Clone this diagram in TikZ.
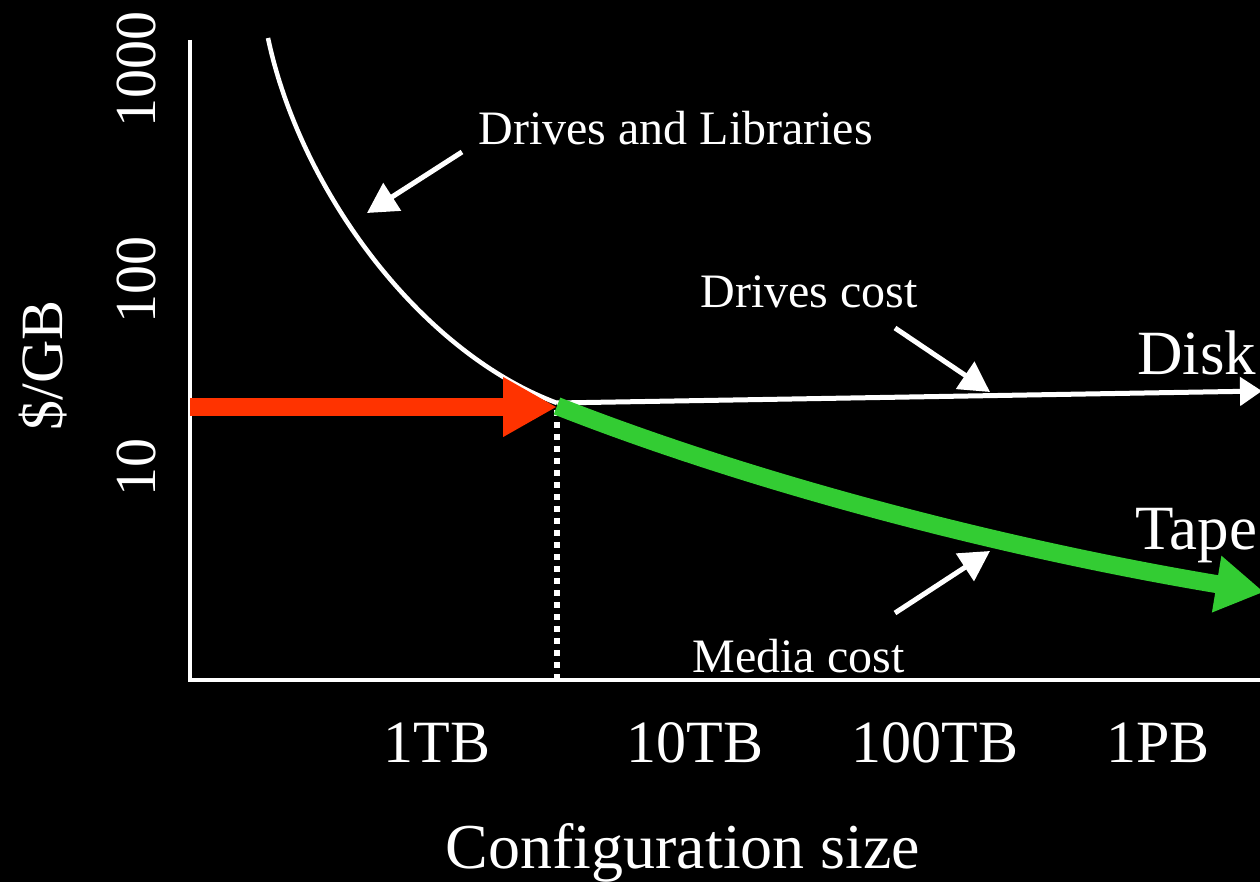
\documentclass[tikz,border=0pt]{standalone}
\usepackage{fontspec}
\setmainfont{Liberation Serif}
\usetikzlibrary{arrows.meta}
\definecolor{redarrow}{HTML}{FF3300}
\definecolor{tapegreen}{HTML}{33CC33}

\begin{document}
\begin{tikzpicture}[x=0.5pt, y=-0.5pt,
    axis/.style={draw=white, line width=2pt},
    lbl/.style={text=white, inner sep=0pt, font=\fontsize{30}{36}\selectfont},
    note/.style={text=white, inner sep=0pt, font=\fontsize{24}{29}\selectfont},
    pointer/.style={white, line width=2.5pt, -{Triangle[length=15pt, width=16pt]}}
]
    % Background
    \useasboundingbox (0,0) rectangle (1260,882);
    \fill[black] (0,0) rectangle (1260,882);
    \clip (0,0) rectangle (1260,882);

    % Axes
    \coordinate (ytop) at (190,40);
    \coordinate (origin) at (190,680);
    \coordinate (xend) at (1262,680);
    \draw[axis] (ytop) -- (origin) -- (xend);

    % Y labels
    \node[lbl, rotate=90, anchor=base, font=\fontsize{29}{35}\selectfont] (y1000) at (155,70) {1000};
    \node[lbl, rotate=90, anchor=base, font=\fontsize{29}{35}\selectfont] (y100) at (155,280) {100};
    \node[lbl, rotate=90, anchor=base, font=\fontsize{29}{35}\selectfont] (y10) at (155,467) {10};
    \node[lbl, rotate=90, anchor=base] (ytitle) at (62,365) {\$/GB};

    % X labels
    \node[lbl, anchor=base] (x1tb) at (437,762) {1TB};
    \node[lbl, anchor=base] (x10tb) at (695,762) {10TB};
    \node[lbl, anchor=base] (x100tb) at (935,762) {100TB};
    \node[lbl, anchor=base] (x1pb) at (1158,762) {1PB};
    \node[lbl, anchor=base, font=\fontsize{32}{38}\selectfont] (xtitle) at (683,868) {Configuration size};

    % Knee point
    \coordinate (knee) at (557,403);
    \coordinate (kneefoot) at (557,680);
    \draw[white, line width=3pt, dash pattern=on 3pt off 3pt] (557,410) -- (kneefoot);

    % Drives and libraries curve
    \coordinate (libstart) at (268,38);
    \draw[white, line width=2.25pt] (libstart) .. controls (300,190) and (420,352) .. (knee);

    % Disk line
    \coordinate (diskend) at (1262,391);
    \draw[white, line width=2.5pt, -{Triangle[length=11pt, width=14pt]}] (knee) -- (diskend);

    % Tape curve
    \coordinate (tapeend) at (1264,592);
    \draw[tapegreen, line width=9pt, -{Triangle[length=24pt, width=27pt]}]
        (557,406) .. controls (750,482) and (1000,548) .. (tapeend);

    % Red arrow
    \coordinate (redstart) at (190,407);
    \draw[redarrow, line width=9pt, -{Triangle[length=27pt, width=28pt]}] (redstart) -- (557,407);

    % Curve names
    \node[lbl, anchor=base west, font=\fontsize{31.5}{38}\selectfont] (disk) at (1137,375) {Disk};
    \node[lbl, anchor=base west, font=\fontsize{31.5}{38}\selectfont] (tape) at (1135,550) {Tape};

    % Notes
    \node[note, anchor=base west] (libs) at (478,145) {Drives and Libraries};
    \node[note, anchor=base west] (drives) at (700,308) {Drives cost};
    \node[note, anchor=base west] (media) at (692,672) {Media cost};

    \coordinate (libtail) at (462,152);
    \coordinate (libtip) at (367,213);
    \coordinate (drvtail) at (895,328);
    \coordinate (drvtip) at (990,392);
    \coordinate (medtail) at (895,613);
    \coordinate (medtip) at (990,551);
    \draw[pointer] (libtail) -- (libtip);
    \draw[pointer] (drvtail) -- (drvtip);
    \draw[pointer] (medtail) -- (medtip);
\end{tikzpicture}
\end{document}
